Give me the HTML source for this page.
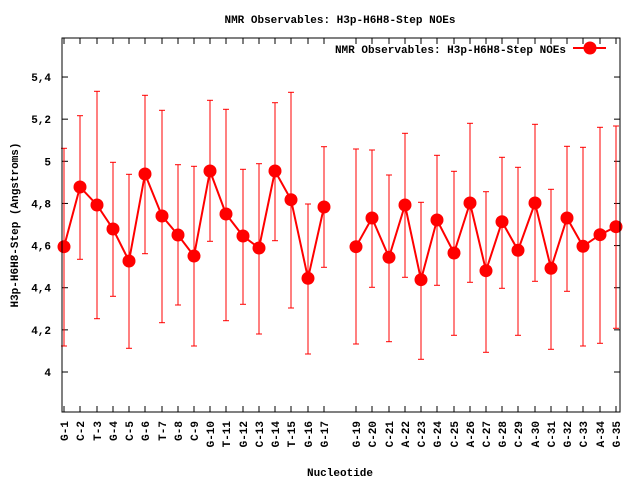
<!DOCTYPE html>
<html><head><meta charset="utf-8"><style>
html,body{margin:0;padding:0;background:#fff;}
svg text{font-family:"Liberation Mono","DejaVu Sans Mono",monospace;font-weight:bold;font-size:11px;fill:#000;}
</style></head><body>
<svg id="s" width="640" height="480" xmlns="http://www.w3.org/2000/svg">
<rect x="0" y="0" width="640" height="480" fill="#fff"/>
<text x="340" y="23" text-anchor="middle">NMR Observables: H3p-H6H8-Step NOEs</text>
<text x="340" y="476" text-anchor="middle">Nucleotide</text>
<text transform="translate(18,225) rotate(-90)" text-anchor="middle">H3p-H6H8-Step (Angstroms)</text>
<text x="566" y="53" text-anchor="end">NMR Observables: H3p-H6H8-Step NOEs</text>
<line x1="573" y1="48" x2="606" y2="48" stroke="#f00" stroke-width="2"/>
<circle cx="590" cy="48" r="6.5" fill="#f00"/>
<g id="g"></g>
<rect x="62" y="38" width="558" height="374" fill="none" stroke="#000" stroke-width="1"/>
</svg>
<script>
var d=[[1,64,246.7,148.3,346],[2,80,187,115.7,259.3],[3,97,205,91.3,318.7],[4,113,229,162.3,296.3],[5,129,261,174.3,348.3],[6,145,174,95.3,253.7],[7,162,216,110.3,322.7],[8,178,235,164.7,305],[9,194,256,166.3,346],[10,210,171,100.3,241.3],[11,226,214,109.3,320.7],[12,243,236,169.3,304.3],[13,259,248,163.7,334],[14,275,171,102.7,240.7],[15,291,199.7,92.3,308],[16,308,278.3,204,354],[17,324,207,146.7,267.3],
[19,356,246.7,149,344],[20,372,218,150,287.3],[21,389,257.3,175,341.7],[22,405,205,133.3,277.3],[23,421,279.7,202.3,359.3],[24,437,220,155.3,285.3],[25,454,253,171.3,335.3],[26,470,203,123.3,282.3],[27,486,270.7,191.7,352.3],[28,502,221.7,157.3,288.3],[29,518,250.3,167.3,335.3],[30,535,203,124.3,281.3],[31,551,268.3,189.3,349.3],[32,567,218,146.3,291.3],[33,583,246.3,147.3,346],[34,600,234.7,127.3,343.3],[35,616,226.7,126,328.3]];
var lab="G-1 C-2 T-3 G-4 C-5 G-6 T-7 G-8 C-9 G-10 T-11 G-12 C-13 G-14 T-15 G-16 G-17 X G-19 C-20 C-21 A-22 C-23 G-24 C-25 A-26 C-27 G-28 C-29 A-30 C-31 G-32 C-33 A-34 G-35".split(" ");
var h='';
var yl=["4","4,2","4,4","4,6","4,8","5","5,2","5,4"];
for(var i=0;i<8;i++){var y=372-i*42.14;
h+='<line x1="62" y1="'+y+'" x2="68" y2="'+y+'" stroke="#000"/><line x1="614" y1="'+y+'" x2="620" y2="'+y+'" stroke="#000"/>';
h+='<text x="51" y="'+(y+4)+'" text-anchor="end">'+yl[i]+'</text>';}
var p1='',p2='';
d.forEach(function(r){var x=r[1];
h+='<line x1="'+x+'" y1="412" x2="'+x+'" y2="406" stroke="#000"/><line x1="'+x+'" y1="38" x2="'+x+'" y2="44" stroke="#000"/>';
h+='<text transform="translate('+(x+4)+',421) rotate(-90)" text-anchor="end">'+lab[r[0]-1]+'</text>';
h+='<line x1="'+x+'" y1="'+r[3]+'" x2="'+x+'" y2="'+r[4]+'" stroke="#f00" stroke-width="1"/>';
h+='<line x1="'+(x-3)+'" y1="'+r[3]+'" x2="'+(x+3)+'" y2="'+r[3]+'" stroke="#f00"/><line x1="'+(x-3)+'" y1="'+r[4]+'" x2="'+(x+3)+'" y2="'+r[4]+'" stroke="#f00"/>';
if(r[0]<18)p1+=x+','+r[2]+' ';else p2+=x+','+r[2]+' ';});
h+='<polyline points="'+p1+'" fill="none" stroke="#f00" stroke-width="2"/><polyline points="'+p2+'" fill="none" stroke="#f00" stroke-width="2"/>';
d.forEach(function(r){h+='<circle cx="'+r[1]+'" cy="'+r[2]+'" r="6.5" fill="#f00"/>';});
document.getElementById('g').innerHTML=h;
</script>
</body></html>
